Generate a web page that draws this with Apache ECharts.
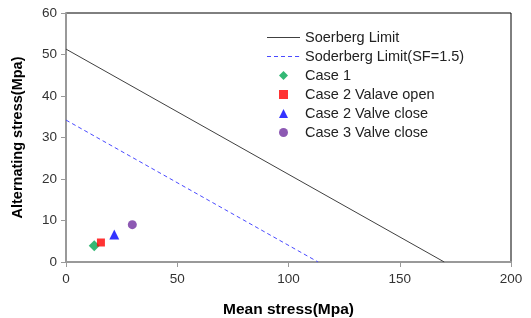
<!DOCTYPE html>
<html>
<head>
<meta charset="utf-8">
<script src="https://cdn.jsdelivr.net/npm/echarts@6/dist/echarts.min.js"></script>
<style>
  html, body { margin: 0; padding: 0; background: #fff; }
  #chart { width: 531px; height: 318px; }
</style>
</head>
<body>
<div id="chart"></div>
<script>
// Soderberg lines: [mean, alternating]
const soerbergLimit = [[0, 51.3], [170, 0]];
const soderbergSF = [[0, 34.2], [113.3, 0]];

// load cases
const case1 = [[12.7, 3.9]];
const case2Open = [[15.7, 4.7]];
const case2Close = [[21.7, 6.6]];
const case3Close = [[29.8, 9.0]];

const seriesNames = [
  "Soerberg Limit",
  "Soderberg Limit(SF=1.5)",
  "Case 1",
  "Case 2 Valave open",
  "Case 2 Valve close",
  "Case 3 Valve close"
];

const chart = echarts.init(document.getElementById("chart"));

const fontFamily = "Liberation Sans, Arial, sans-serif";

// legend icons (aspect kept inside the 33x9 box)
const legendIcons = [
  "path://M0,0 H33 V1 H0 Z",
  "path://M0,0 H4 V1 H0 Z M7,0 H11 V1 H7 Z M14,0 H18 V1 H14 Z M21,0 H25 V1 H21 Z M28,0 H32 V1 H28 Z M32.9,0 H33 V1 H32.9 Z",
  "path://M5,0 L10,5 L5,10 L0,5 Z",
  "path://M0,0 L10,0 L10,10 L0,10 Z",
  "path://M5,0 L10,10 L0,10 Z",
  "circle"
];

const option = {
  animation: false,
  textStyle: { fontFamily: fontFamily },
  grid: {
    left: 66,
    right: 20,
    top: 13,
    bottom: 56,
    outerBoundsMode: "none",
    show: true,
    borderColor: "#000",
    borderWidth: 1
  },
  legend: {
    orient: "vertical",
    left: 262,
    top: 25,
    itemWidth: 33,
    itemHeight: 9,
    itemGap: 4,
    symbolKeepAspect: true,
    textStyle: { fontSize: 14.5, color: "#222", fontFamily: fontFamily },
    data: seriesNames.map((n, i) => ({ name: n, icon: legendIcons[i] }))
  },
  xAxis: {
    type: "value",
    min: 0,
    max: 200,
    interval: 50,
    name: "Mean stress(Mpa)",
    nameLocation: "middle",
    nameGap: 40,
    nameTextStyle: { fontSize: 15.5, fontWeight: "bold", color: "#000" },
    axisLine: { show: true, lineStyle: { color: "#999", width: 2 } },
    axisTick: { show: true, length: 5, lineStyle: { color: "#999" } },
    axisLabel: { fontSize: 13.5, color: "#333", margin: 10 },
    splitLine: { show: false }
  },
  yAxis: {
    type: "value",
    min: 0,
    max: 60,
    interval: 10,
    name: "Alternating stress(Mpa)",
    nameLocation: "middle",
    nameGap: 41,
    nameTextStyle: { fontSize: 14.5, fontWeight: "bold", color: "#000" },
    axisLine: { show: true, lineStyle: { color: "#999", width: 2 } },
    axisTick: { show: true, length: 5, lineStyle: { color: "#999" } },
    axisLabel: { fontSize: 13.5, color: "#333", margin: 9 },
    splitLine: { show: false }
  },
  series: [
    {
      name: seriesNames[0],
      type: "line",
      data: soerbergLimit,
      symbol: "none",
      lineStyle: { color: "#404040", width: 1 },
      itemStyle: { color: "#404040" }
    },
    {
      name: seriesNames[1],
      type: "line",
      data: soderbergSF,
      symbol: "none",
      lineStyle: { color: "#4a4aff", width: 1, type: [4, 3] },
      itemStyle: { color: "#4a4aff" }
    },
    {
      name: seriesNames[2],
      type: "scatter",
      data: case1,
      symbol: "diamond",
      symbolSize: 11,
      itemStyle: { color: "#00a651" }
    },
    {
      name: seriesNames[3],
      type: "scatter",
      data: case2Open,
      symbol: "rect",
      symbolSize: 8,
      itemStyle: { color: "#ff0000" }
    },
    {
      name: seriesNames[4],
      type: "scatter",
      data: case2Close,
      symbol: "triangle",
      symbolSize: 10,
      itemStyle: { color: "#0000ff" }
    },
    {
      name: seriesNames[5],
      type: "scatter",
      data: case3Close,
      symbol: "circle",
      symbolSize: 9,
      itemStyle: { color: "#7030a0" }
    }
  ]
};

chart.setOption(option);
</script>
</body>
</html>
